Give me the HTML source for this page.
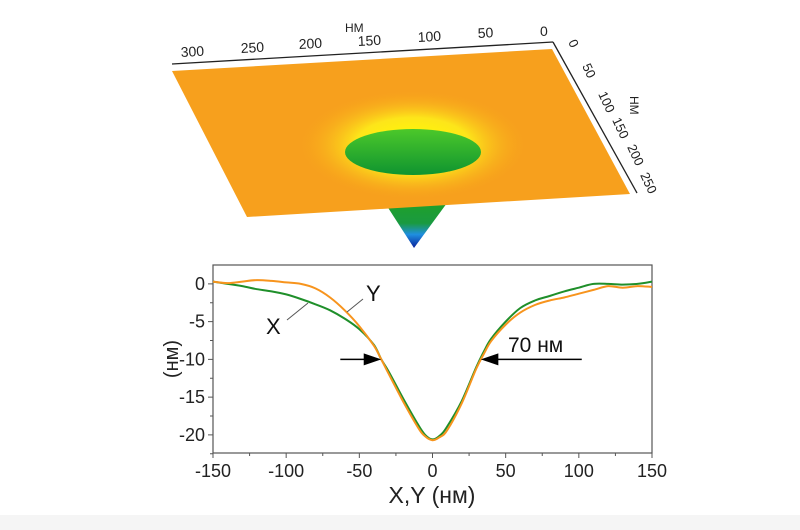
<!DOCTYPE html>
<html><head><meta charset="utf-8"><style>
body{margin:0;background:#fff;}
svg{display:block;font-family:"Liberation Sans","DejaVu Sans",sans-serif;}
</style></head><body>
<svg width="800" height="530" viewBox="0 0 800 530">
<defs>
<radialGradient id="pit" cx="0.5" cy="0.5" r="0.5">
<stop offset="0" stop-color="#ffff00"/><stop offset="0.5" stop-color="#fde51a"/><stop offset="1" stop-color="#f7a21b" stop-opacity="0"/>
</radialGradient>
<linearGradient id="cone" x1="0" y1="0" x2="0" y2="1">
<stop offset="0" stop-color="#1fa02a"/><stop offset="0.45" stop-color="#1a9a40"/><stop offset="0.7" stop-color="#1f8fe0"/><stop offset="1" stop-color="#0a1f9a"/>
</linearGradient>
<linearGradient id="bowl" x1="0" y1="0" x2="0" y2="1">
<stop offset="0" stop-color="#4cc82a"/><stop offset="1" stop-color="#0f9430"/>
</linearGradient>
</defs>
<rect x="0" y="515" width="800" height="15" fill="#f5f5f5"/>
<g>
<polygon points="385,203 447,203 414,248" fill="url(#cone)"/>
<polygon points="172,71 552,49 630,194 247,217" fill="#f7a01d"/>
<ellipse cx="413" cy="145" rx="115" ry="55" fill="url(#pit)"/>
<ellipse cx="413" cy="152" rx="68" ry="23" fill="url(#bowl)"/>
<line x1="172" y1="64" x2="553" y2="42" stroke="#222" stroke-width="1.3"/>
<line x1="553" y1="42" x2="637" y2="193" stroke="#222" stroke-width="1.3"/>
<g font-size="14" fill="#222">
<text x="181" y="57" transform="rotate(-3 181 57)">300</text>
<text x="241" y="53" transform="rotate(-3 241 53)">250</text>
<text x="299" y="49" transform="rotate(-3 299 49)">200</text>
<text x="358" y="46" transform="rotate(-3 358 46)">150</text>
<text x="418" y="42" transform="rotate(-3 418 42)">100</text>
<text x="478" y="38" transform="rotate(-3 478 38)">50</text>
<text x="540" y="36">0</text>
<text x="345" y="32" font-size="12">HM</text>
</g>
<g font-size="13" fill="#222">
<text x="568" y="42" transform="rotate(65 568 42)">0</text>
<text x="582" y="66" transform="rotate(65 582 66)">50</text>
<text x="598" y="94" transform="rotate(65 598 94)">100</text>
<text x="612" y="120" transform="rotate(65 612 120)">150</text>
<text x="627" y="147" transform="rotate(65 627 147)">200</text>
<text x="640" y="175" transform="rotate(65 640 175)">250</text>
<text x="630" y="96" font-size="12" transform="rotate(90 630 96)">HM</text>
</g>
</g>
<g id="chart"></g>
</svg>
<script>
const xs=[-150,-140,-130,-120,-110,-100,-90,-80,-70,-60,-50,-40,-35,-30,-20,-10,-5,0,5,10,20,30,35,40,50,60,70,80,90,100,110,120,130,140,150];
const seriesX=[0.3,0,-0.3,-0.7,-1,-1.4,-2,-2.7,-3.5,-4.6,-6,-8.1,-10,-11.6,-15.2,-18.6,-20,-20.6,-20.1,-18.9,-15.5,-11,-9,-7.3,-5,-3.2,-2.2,-1.6,-1,-0.5,0,0,-0.1,0,0.3];
const seriesY=[0.3,0.1,0.3,0.5,0.4,0.2,0,-0.6,-1.8,-3.5,-5.6,-8.2,-10,-11.9,-15.6,-19,-20.2,-20.7,-20.3,-19.4,-15.8,-11.2,-9.3,-7.6,-5.4,-3.8,-2.8,-2.2,-1.8,-1.3,-0.8,-0.3,-0.5,-0.3,-0.4];
const xTicks=[-150,-100,-50,0,50,100,150];
const yTicks=[0,-5,-10,-15,-20];
const NS="http://www.w3.org/2000/svg";
const L=213,R=652,T=265,B=453,X0=-150,X1=150,Y0=-22.4,Y1=2.5;
const sx=v=>L+(v-X0)/(X1-X0)*(R-L);
const sy=v=>B-(v-Y0)/(Y1-Y0)*(B-T);
const g=document.getElementById('chart');
function mk(t,a){const e=document.createElementNS(NS,t);for(const k in a)e.setAttribute(k,a[k]);g.appendChild(e);return e;}
let e=mk('rect',{x:L,y:T,width:R-L,height:B-T,fill:'none',stroke:'#555','stroke-width':1.2});


xTicks.forEach((v,i)=>{
 let t=mk('line',{x1:sx(v),x2:sx(v),y1:B,y2:B+5,stroke:'#555'});
 
 
 if(i<xTicks.length-1){let m=mk('line',{x1:sx(v+25),x2:sx(v+25),y1:B,y2:B+3,stroke:'#555'});
 
 }
 let l=mk('text',{x:sx(v),y:B+24,'text-anchor':'middle','font-size':18,fill:'#222'});l.textContent=v;
 
 
});
yTicks.forEach(v=>{
 let t=mk('line',{x1:L-5,x2:L,y1:sy(v),y2:sy(v),stroke:'#555'});
 
 
 let m=mk('line',{x1:L-3,x2:L,y1:sy(v-2.5),y2:sy(v-2.5),stroke:'#555'});
 
 
 let l=mk('text',{x:L-8,y:sy(v)+6,'text-anchor':'end','font-size':18,fill:'#222'});l.textContent=v;
 
 
});
function line(vals,col,name){
 const P=xs.map((x,i)=>[sx(x),sy(vals[i])]);
 let d='M'+P[0][0].toFixed(1)+','+P[0][1].toFixed(1);
 for(let i=0;i<P.length-1;i++){
  const p0=P[Math.max(0,i-1)],p1=P[i],p2=P[i+1],p3=P[Math.min(P.length-1,i+2)];
  const c1=[p1[0]+(p2[0]-p0[0])/6,p1[1]+(p2[1]-p0[1])/6];
  const c2=[p2[0]-(p3[0]-p1[0])/6,p2[1]-(p3[1]-p1[1])/6];
  d+=` C${c1[0].toFixed(1)},${c1[1].toFixed(1)} ${c2[0].toFixed(1)},${c2[1].toFixed(1)} ${p2[0].toFixed(1)},${p2[1].toFixed(1)}`;
 }
 let p=mk('path',{d:d,fill:'none',stroke:col,'stroke-width':2});
 
 
}
line(seriesX,'#1f8f2a','series-x-line');
line(seriesY,'#f7941d','series-y-line');
let a1=mk('line',{x1:sx(-63),y1:sy(-10),x2:sx(-45),y2:sy(-10),stroke:'#000','stroke-width':1.5});


let h1=mk('polygon',{points:`${sx(-35)},${sy(-10)} ${sx(-47)},${sy(-10)-6} ${sx(-47)},${sy(-10)+6}`,fill:'#000'});


let a2=mk('line',{x1:sx(102),y1:sy(-10),x2:sx(43),y2:sy(-10),stroke:'#000','stroke-width':1.5});


let h2=mk('polygon',{points:`${sx(33)},${sy(-10)} ${sx(45)},${sy(-10)-6} ${sx(45)},${sy(-10)+6}`,fill:'#000'});


let w=mk('text',{x:508,y:352,'font-size':21,fill:'#111'});w.textContent='70 нм';


let ly=mk('text',{x:366,y:301,'font-size':22,fill:'#111'});ly.textContent='Y';


let lly=mk('line',{x1:347,y1:312,x2:363,y2:299,stroke:'#555'});


let lx=mk('text',{x:266,y:334,'font-size':22,fill:'#111'});lx.textContent='X';


let llx=mk('line',{x1:287,y1:320,x2:308,y2:303,stroke:'#555'});


let xt=mk('text',{x:432,y:503,'text-anchor':'middle','font-size':23,fill:'#222'});xt.textContent='X,Y (нм)';


let yt=mk('text',{x:178,y:359,'text-anchor':'middle','font-size':20,fill:'#222',transform:'rotate(-90 178 359)'});yt.textContent='(нм)';


</script>
</body></html>
